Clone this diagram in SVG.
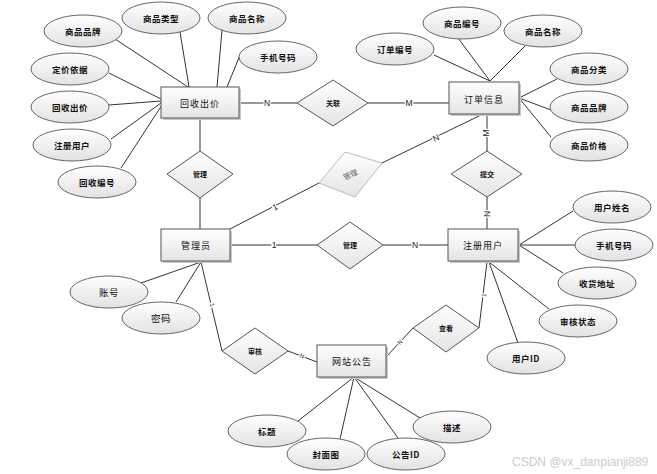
<svg xmlns="http://www.w3.org/2000/svg" width="657" height="474" viewBox="0 0 657 474">
<defs>
<linearGradient id="gr" x1="0" y1="0" x2="0" y2="1"><stop offset="0" stop-color="#ffffff"/><stop offset="1" stop-color="#e4e4e4"/></linearGradient>
<linearGradient id="ge" x1="0" y1="0" x2="0" y2="1"><stop offset="0" stop-color="#ffffff"/><stop offset="1" stop-color="#e2e2e2"/></linearGradient>
<style>
text{font-family:"Noto Sans CJK SC","Noto Sans",sans-serif;text-anchor:middle;dominant-baseline:central;fill:#111}
.ent rect.b{fill:url(#gr);stroke:#555;stroke-width:1}
.ent rect.s{fill:#c8c8c8}
.ent text{font-size:9px;letter-spacing:1px}
.attr ellipse{fill:url(#ge);stroke:#666;stroke-width:1}
.attr text{font-size:8.5px;font-weight:bold;letter-spacing:0.5px}
.rel polygon{fill:url(#gr);stroke:#555;stroke-width:1}
.rel text{font-size:7px;font-weight:bold}
.faint polygon{stroke:#bbb}
.faint text{fill:#666;font-weight:normal;font-size:7.5px}
#connectors line{stroke:#333;stroke-width:1}
.lab{font-family:"Liberation Sans",sans-serif;font-size:8.5px;stroke:#fff;stroke-width:2.5px;paint-order:stroke;fill:#222}
.wm{font-family:"Liberation Sans",sans-serif;font-size:12px;fill:#cccccc;text-anchor:start}
</style>
</defs>
<rect width="657" height="474" fill="#fff"/>

<g id="connectors">
<!-- 回收出价 attributes -->
<line x1="115" y1="39" x2="188" y2="87"/>
<line x1="180" y1="32" x2="189" y2="87"/>
<line x1="222" y1="30" x2="217" y2="87"/>
<line x1="240" y1="55" x2="227" y2="87"/>
<line x1="109" y1="73" x2="161" y2="99"/>
<line x1="109" y1="105" x2="161" y2="101"/>
<line x1="111" y1="139" x2="161" y2="103"/>
<line x1="121" y1="168" x2="162" y2="105"/>
<!-- 订单信息 attributes -->
<line x1="434" y1="55" x2="490" y2="81"/>
<line x1="458" y1="38" x2="490" y2="81"/>
<line x1="525" y1="46" x2="490" y2="81"/>
<line x1="557" y1="79" x2="519" y2="98"/>
<line x1="551" y1="110" x2="519" y2="98"/>
<line x1="551" y1="137" x2="519" y2="98"/>
<!-- 注册用户 attributes -->
<line x1="573" y1="211" x2="519" y2="245"/>
<line x1="575" y1="245" x2="519" y2="245"/>
<line x1="563" y1="273" x2="519" y2="245"/>
<line x1="549" y1="309" x2="489" y2="262"/>
<line x1="518" y1="343" x2="489" y2="262"/>
<!-- 管理员 attributes -->
<line x1="141" y1="283" x2="201" y2="262"/>
<line x1="176" y1="302" x2="201" y2="262"/>
<!-- 网站公告 attributes -->
<line x1="298" y1="421" x2="354" y2="377"/>
<line x1="340" y1="439" x2="354" y2="377"/>
<line x1="398" y1="438" x2="354" y2="377"/>
<line x1="420" y1="418" x2="354" y2="377"/>
<!-- relationships -->
<line x1="239" y1="103" x2="297" y2="103"/>
<line x1="368" y1="103" x2="449" y2="103"/>
<line x1="200" y1="119" x2="200" y2="151"/>
<line x1="200" y1="198" x2="200" y2="229"/>
<line x1="230" y1="245" x2="317" y2="245"/>
<line x1="383" y1="245" x2="448" y2="245"/>
<line x1="487" y1="115" x2="487" y2="151"/>
<line x1="487" y1="197" x2="487" y2="229"/>
<line x1="230" y1="229" x2="319" y2="183"/>
<line x1="382" y1="163" x2="481" y2="115"/>
<line x1="201" y1="262" x2="222" y2="351"/>
<line x1="288" y1="351" x2="317" y2="362"/>
<line x1="479" y1="328" x2="487" y2="262"/>
<line x1="413" y1="328" x2="387" y2="356"/>
<!-- cardinality labels -->
<text class="lab" x="267" y="103">N</text>
<text class="lab" x="409" y="103">M</text>
<text class="lab" x="274" y="245">1</text>
<text class="lab" x="415" y="245">N</text>
<text class="lab" transform="translate(486,133) rotate(-90)">M</text>
<text class="lab" transform="translate(487,214) rotate(-90)">N</text>
<text class="lab" transform="translate(275,207) rotate(-27)">1</text>
<text class="lab" transform="translate(436,138) rotate(-26)">N</text>
<text class="lab" style="font-size:6px" transform="translate(212,305) rotate(77)">1</text>
<text class="lab" style="font-size:6px" transform="translate(302,356) rotate(20)">N</text>
<text class="lab" style="font-size:6px" transform="translate(400,342) rotate(-48)">N</text>
<text class="lab" style="font-size:6px" transform="translate(484,295) rotate(-83)">1</text>
</g>

<!-- entities -->
<g id="e-huishou" class="ent"><rect class="s" x="163" y="89" width="78" height="31"/><rect class="b" x="161" y="87" width="78" height="31"/><text x="200" y="103">回收出价</text></g>
<g id="e-dingdan" class="ent"><rect class="s" x="451" y="84" width="70" height="32"/><rect class="b" x="449" y="82" width="70" height="32"/><text x="484" y="99">订单信息</text></g>
<g id="e-guanliyuan" class="ent"><rect class="s" x="163" y="231" width="69" height="32"/><rect class="b" x="161" y="229" width="69" height="32"/><text x="196" y="245">管理员</text></g>
<g id="e-zhuce" class="ent"><rect class="s" x="450" y="231" width="70" height="32"/><rect class="b" x="448" y="229" width="70" height="32"/><text x="483" y="245">注册用户</text></g>
<g id="e-gonggao" class="ent"><rect class="s" x="319" y="347" width="69" height="32"/><rect class="b" x="317" y="345" width="69" height="32"/><text x="352" y="361">网站公告</text></g>

<!-- relationships -->
<g id="r-guanlian" class="rel"><polygon points="333,80 368,103 333,126 297,103"/><text x="333" y="103">关联</text></g>
<g id="r-guanli1" class="rel"><polygon points="200,151 233,174 200,198 167,174"/><text x="200" y="174">管理</text></g>
<g id="r-tijiao" class="rel"><polygon points="487,151 522,174 487,197 451,174"/><text x="487" y="174">提交</text></g>
<g id="r-guanli2" class="rel"><polygon points="350,222 383,245 350,269 317,245"/><text x="350" y="245">管理</text></g>
<g id="r-shenhe" class="rel"><polygon points="255,328 288,351 255,374 222,351"/><text x="255" y="351">审核</text></g>
<g id="r-chakan" class="rel"><polygon points="446,305 479,328 446,352 413,328"/><text x="446" y="328">查看</text></g>
<g id="r-guanli3" class="rel faint"><polygon points="345,152 382,163 355,197 319,183"/><text transform="translate(350,174) rotate(-25)">管理</text></g>

<!-- attributes of 回收出价 -->
<g id="a-hs-pinpai" class="attr"><ellipse cx="83" cy="31" rx="39" ry="16"/><text x="83" y="31">商品品牌</text></g>
<g id="a-hs-leixing" class="attr"><ellipse cx="161" cy="18" rx="39" ry="16"/><text x="161" y="18">商品类型</text></g>
<g id="a-hs-mingcheng" class="attr"><ellipse cx="247" cy="18" rx="39" ry="16"/><text x="247" y="18">商品名称</text></g>
<g id="a-hs-shouji" class="attr"><ellipse cx="278" cy="57" rx="39" ry="16"/><text x="278" y="57">手机号码</text></g>
<g id="a-hs-dingjia" class="attr"><ellipse cx="70" cy="69" rx="39" ry="16"/><text x="70" y="69">定价依据</text></g>
<g id="a-hs-chujia" class="attr"><ellipse cx="70" cy="107" rx="39" ry="16"/><text x="70" y="107">回收出价</text></g>
<g id="a-hs-yonghu" class="attr"><ellipse cx="72" cy="145" rx="39" ry="16"/><text x="72" y="145">注册用户</text></g>
<g id="a-hs-bianhao" class="attr"><ellipse cx="97" cy="182" rx="39" ry="16"/><text x="97" y="182">回收编号</text></g>

<!-- attributes of 订单信息 -->
<g id="a-dd-bianhao" class="attr"><ellipse cx="395" cy="49" rx="39" ry="16"/><text x="395" y="49">订单编号</text></g>
<g id="a-dd-spbianhao" class="attr"><ellipse cx="462" cy="23" rx="39" ry="16"/><text x="462" y="23">商品编号</text></g>
<g id="a-dd-mingcheng" class="attr"><ellipse cx="543" cy="31" rx="39" ry="16"/><text x="543" y="31">商品名称</text></g>
<g id="a-dd-fenlei" class="attr"><ellipse cx="589" cy="69" rx="39" ry="16"/><text x="589" y="69">商品分类</text></g>
<g id="a-dd-pinpai" class="attr"><ellipse cx="589" cy="107" rx="39" ry="16"/><text x="589" y="107">商品品牌</text></g>
<g id="a-dd-jiage" class="attr"><ellipse cx="589" cy="145" rx="39" ry="16"/><text x="589" y="145">商品价格</text></g>

<!-- attributes of 注册用户 -->
<g id="a-zc-xingming" class="attr"><ellipse cx="612" cy="207" rx="39" ry="16"/><text x="612" y="207">用户姓名</text></g>
<g id="a-zc-shouji" class="attr"><ellipse cx="614" cy="245" rx="39" ry="16"/><text x="614" y="245">手机号码</text></g>
<g id="a-zc-dizhi" class="attr"><ellipse cx="597" cy="283" rx="39" ry="16"/><text x="597" y="283">收货地址</text></g>
<g id="a-zc-zhuangtai" class="attr"><ellipse cx="578" cy="321" rx="39" ry="16"/><text x="578" y="321">审核状态</text></g>
<g id="a-zc-id" class="attr"><ellipse cx="526" cy="358" rx="39" ry="16"/><text x="526" y="358">用户ID</text></g>

<!-- attributes of 管理员 -->
<g id="a-gl-zhanghao" class="attr"><ellipse cx="109" cy="292" rx="39" ry="16"/><text x="109" y="292" style="font-size:9.5px;font-weight:normal">账号</text></g>
<g id="a-gl-mima" class="attr"><ellipse cx="161" cy="318" rx="39" ry="16"/><text x="161" y="318" style="font-size:9.5px;font-weight:normal">密码</text></g>

<!-- attributes of 网站公告 -->
<g id="a-gg-biaoti" class="attr"><ellipse cx="267" cy="431" rx="39" ry="16"/><text x="267" y="431">标题</text></g>
<g id="a-gg-fengmian" class="attr"><ellipse cx="326" cy="454" rx="39" ry="16"/><text x="326" y="454">封面图</text></g>
<g id="a-gg-id" class="attr"><ellipse cx="406" cy="454" rx="39" ry="16"/><text x="406" y="454">公告ID</text></g>
<g id="a-gg-miaoshu" class="attr"><ellipse cx="452" cy="427" rx="39" ry="16"/><text x="452" y="427">描述</text></g>

<text class="wm" x="512" y="462">CSDN @vx_danpianji889</text>
</svg>
